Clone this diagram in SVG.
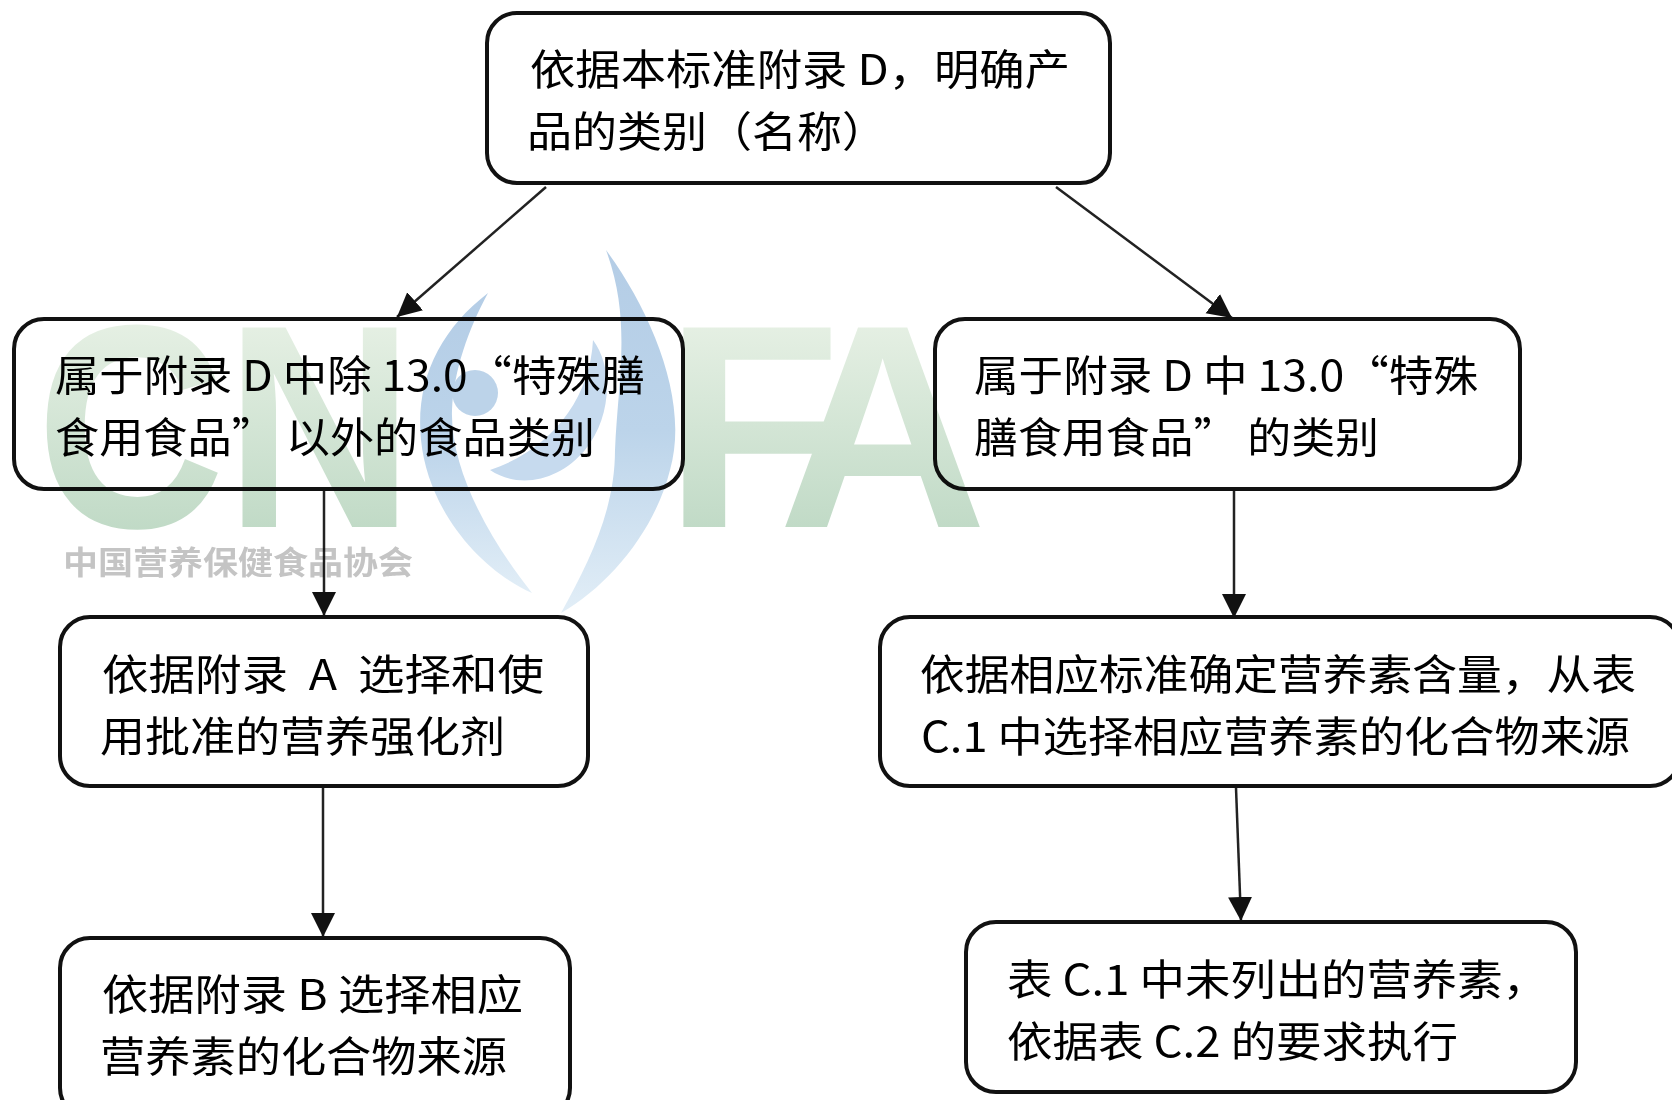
<svg xmlns="http://www.w3.org/2000/svg" width="1672" height="1100" viewBox="0 0 1672 1100">
<style>
.box{fill:#fff;stroke:#111;stroke-width:4}
.t{font-family:"Noto Sans CJK SC","Liberation Sans",sans-serif;font-size:42px;fill:#000;font-weight:400}
.c{stroke:#222;stroke-width:2.5;fill:none;marker-end:url(#a)}
.wm{font-family:"Liberation Sans",sans-serif;font-weight:700;font-size:290px;fill:url(#g)}
.wc{font-family:"Noto Sans CJK SC",sans-serif;font-weight:700;font-size:32px;fill:#8a8a8a;opacity:.5}
</style>
<defs>
<marker id="a" markerUnits="userSpaceOnUse" markerWidth="26" markerHeight="26" refX="24" refY="12" orient="auto"><path d="M0 0L24 12L0 24z" fill="#111"/></marker>
<linearGradient id="g" x1="0" y1="0" x2="0" y2="1"><stop offset="0" stop-color="#f0f6ec"/><stop offset="1" stop-color="#b6d4be"/></linearGradient>
<linearGradient id="b" x1="0" y1="0" x2="0" y2="1"><stop offset="0" stop-color="#b4cde6"/><stop offset=".5" stop-color="#bcd4ea"/><stop offset="1" stop-color="#e2eef7"/></linearGradient>
</defs>
<rect width="1672" height="1100" fill="#fff"/>
<g id="connectors">
<path class="c" d="M546 187L397 317"/>
<path class="c" d="M1056 187L1232 318"/>
<path class="c" d="M324 485V616"/>
<path class="c" d="M1234 489V618"/>
<path class="c" d="M323 786V937"/>
<path class="c" d="M1236 788L1241 921"/>
</g>
<g id="n1"><rect class="box" x="487" y="13" width="623" height="170" rx="30"/>
<text class="t" x="530" y="85" textLength="540" lengthAdjust="spacingAndGlyphs">依据本标准附录 D，明确产</text>
<text class="t" x="527" y="147" textLength="360" lengthAdjust="spacingAndGlyphs">品的类别（名称）</text></g>
<g id="n2"><rect class="box" x="14" y="319" width="669" height="170" rx="30"/>
<text class="t" x="55" y="391" textLength="590" lengthAdjust="spacingAndGlyphs">属于附录 D 中除 13.0“特殊膳</text>
<text class="t" x="55" y="453" textLength="540" lengthAdjust="spacingAndGlyphs">食用食品” 以外的食品类别</text></g>
<g id="n3"><rect class="box" x="935" y="319" width="585" height="170" rx="30"/>
<text class="t" x="974" y="391" textLength="504" lengthAdjust="spacingAndGlyphs">属于附录 D 中 13.0“特殊</text>
<text class="t" x="974" y="453" textLength="405" lengthAdjust="spacingAndGlyphs">膳食用食品” 的类别</text></g>
<g id="n4"><rect class="box" x="60" y="617" width="528" height="169" rx="30"/>
<text class="t" x="102" y="690" textLength="442" lengthAdjust="spacingAndGlyphs">依据附录&#160;&#160;A&#160;&#160;选择和使</text>
<text class="t" x="100" y="752" textLength="405" lengthAdjust="spacingAndGlyphs">用批准的营养强化剂</text></g>
<g id="n5"><rect class="box" x="880" y="617" width="800" height="169" rx="30"/>
<text class="t" x="920" y="690" textLength="716" lengthAdjust="spacingAndGlyphs">依据相应标准确定营养素含量，从表</text>
<text class="t" x="921" y="752" textLength="709" lengthAdjust="spacingAndGlyphs">C.1 中选择相应营养素的化合物来源</text></g>
<g id="n6"><rect class="box" x="60" y="938" width="510" height="180" rx="30"/>
<text class="t" x="102" y="1010" textLength="421" lengthAdjust="spacingAndGlyphs">依据附录 B 选择相应</text>
<text class="t" x="100" y="1072" textLength="407" lengthAdjust="spacingAndGlyphs">营养素的化合物来源</text></g>
<g id="n7"><rect class="box" x="966" y="922" width="610" height="170" rx="30"/>
<text class="t" x="1007" y="995" textLength="541" lengthAdjust="spacingAndGlyphs">表 C.1 中未列出的营养素，</text>
<text class="t" x="1007" y="1057" textLength="451" lengthAdjust="spacingAndGlyphs">依据表 C.2 的要求执行</text></g>
<g id="watermark" style="mix-blend-mode:multiply">
<text class="wm" x="36" y="527" textLength="378" lengthAdjust="spacingAndGlyphs">CN</text>
<text class="wm" x="664" y="527">F</text>
<text class="wm" x="778" y="527">A</text>
<path d="M606 250C650 310 690 400 670 470C655 530 610 585 561 613C590 560 615 510 615 450C618 380 632 320 606 250Z" fill="url(#b)"/>
<path d="M488 293C440 330 415 380 421 440C428 510 480 570 532 593C490 540 450 470 452 410C454 370 468 330 488 293Z" fill="url(#b)"/>
<circle cx="475" cy="393" r="23" fill="#bcd3e9"/>
<path d="M593 340C590 400 550 450 490 470C520 490 560 480 585 450C610 420 615 370 593 340Z" fill="#c6daee"/>
<text class="wc" x="63" y="574" textLength="350" lengthAdjust="spacingAndGlyphs">中国营养保健食品协会</text>
</g>
</svg>
